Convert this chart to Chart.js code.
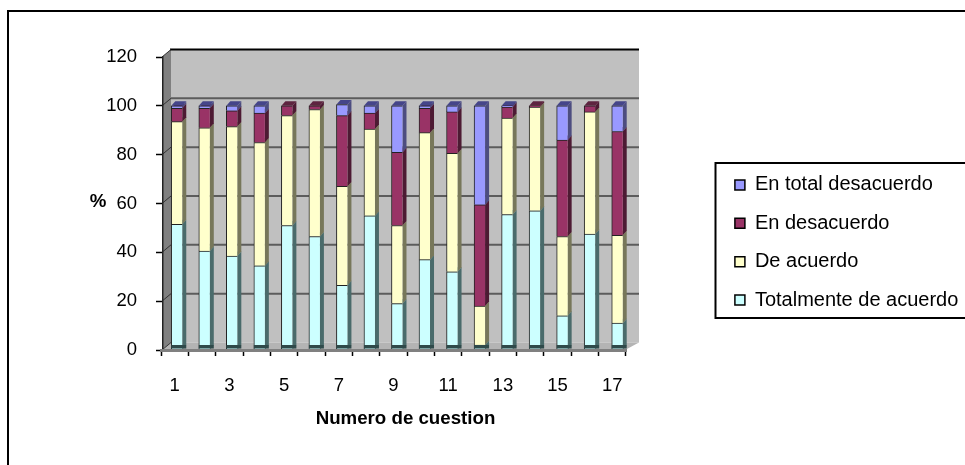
<!DOCTYPE html>
<html>
<head>
<meta charset="utf-8">
<style>
  html, body { margin: 0; padding: 0; background: #fff; overflow: hidden; }
  canvas { display: block; }
</style>
<script src="https://cdn.jsdelivr.net/npm/chart.js@4/dist/chart.umd.min.js"></script>
</head>
<body>
<canvas id="chart" width="965" height="465" style="width:965px;height:465px"></canvas>
<script>
const categories = ['1','2','3','4','5','6','7','8','9','10','11','12','13','14','15','16','17'];
const tickLabels = ['1','','3','','5','','7','','9','','11','','13','','15','','17'];
const yTicks = [0, 20, 40, 60, 80, 100, 120];

// values, bottom of the stack first
const totalmente = [51.5, 40.5, 38.5, 34.5, 51, 46.5, 26.5, 55, 19, 37, 32, 2, 55.5, 57, 14, 47.5, 11];
const deAcuerdo = [42, 50.5, 53, 50.5, 45, 52, 40.5, 35.5, 32, 52, 48.5, 16, 39.5, 42.5, 32.5, 50, 36];
const enDesacuerdo = [5.5, 8, 6.5, 12, 4, 1.5, 29, 6.5, 30, 10, 17, 41.5, 4.5, 0.5, 39.5, 2.5, 42.5];
const enTotal = [1, 1, 2, 3, 0, 0, 4.5, 3, 19, 1, 2.5, 40.5, 0.5, 0, 14, 0, 10.5];

const faceColors = ['#CCFFFF', '#FFFFCC', '#993366', '#9999FF'];
const sideColors = ['#4A6B6B', '#77775A', '#4D1A33', '#4D4D80'];
const topColors = ['#5A8080', '#8F8F6A', '#5E2440', '#45458A'];

// depth of the fake 3D box and of each bar
const wallDx = 8, wallDy = 7.5;
const barDx = 4, barDy = 4.5;
const font = '"Liberation Sans", Arial, sans-serif';

function poly(ctx, pts, fill) {
    ctx.beginPath();
    pts.forEach((p, i) => i ? ctx.lineTo(p[0], p[1]) : ctx.moveTo(p[0], p[1]));
    ctx.closePath();
    ctx.fillStyle = fill;
    ctx.fill();
}

const box3d = {
    id: 'box3d',
    afterLayout(chart) {
        // tick axis is a little narrower than the bars' axis
        const t = chart.scales.xTicks;
        t.left = 161;
        t.right = 626;
        t.width = t.right - t.left;
        t.configure();
        // legend sits further right than layout puts it, and needs its full width
        const lg = chart.legend;
        lg.left = 716.5;
        lg.right = 985;
        lg.width = lg.right - lg.left;
        lg.top += 2.5;
        lg.bottom += 2.5;
    },
    beforeDraw(chart) {
        const ctx = chart.ctx;
        const y = chart.scales.y;
        const top = y.getPixelForValue(120), bottom = y.getPixelForValue(0);
        const left = 162, right = 631;
        ctx.save();
        ctx.fillStyle = '#fff';
        ctx.fillRect(0, 0, chart.width, chart.height);

        // outer frame and legend box
        ctx.strokeStyle = '#000';
        ctx.lineWidth = 2;
        ctx.strokeRect(8, 11, 1000, 500);
        ctx.strokeRect(715.5, 163, 300, 155);

        // back wall, side wall, floor
        poly(ctx, [[left + wallDx + 1, top - wallDy], [639, top - wallDy], [639, bottom - wallDy], [left + wallDx + 1, bottom - wallDy]], '#C0C0C0');
        poly(ctx, [[left, top], [left + wallDx + 1, top - wallDy], [left + wallDx + 1, bottom - wallDy], [left, bottom]], '#808080');
        poly(ctx, [[left, bottom], [left + wallDx + 1, bottom - wallDy], [639, bottom - wallDy], [right - 6, bottom]], '#B4B4B4');

        ctx.strokeStyle = '#000';
        ctx.lineWidth = 2;
        ctx.beginPath();
        ctx.moveTo(left + wallDx, top - wallDy);
        ctx.lineTo(639, top - wallDy);
        ctx.stroke();

        // gridlines on the back wall
        yTicks.slice(1, -1).forEach(v => {
            const py = y.getPixelForValue(v) - wallDy;
            ctx.strokeStyle = '#5C5C5C';
            ctx.lineWidth = 2;
            ctx.beginPath();
            ctx.moveTo(left + wallDx + 1, py);
            ctx.lineTo(639, py);
            ctx.stroke();
        });
        yTicks.forEach(v => {
            const py = y.getPixelForValue(v);
            ctx.strokeStyle = '#333';
            ctx.lineWidth = 1;
            ctx.beginPath();
            ctx.moveTo(left, py);
            ctx.lineTo(left + wallDx + 1, py - wallDy);
            ctx.stroke();
        });
        ctx.restore();
    },
    beforeDatasetsDraw(chart) {
        const ctx = chart.ctx;
        ctx.save();
        chart.data.datasets.forEach((ds, i) => {
            chart.getDatasetMeta(i).data.forEach((bar, j) => {
                if (!ds.data[j]) return;
                const r = bar.x + bar.width / 2, l = bar.x - bar.width / 2;
                poly(ctx, [[r, bar.y], [r + barDx, bar.y - barDy], [r + barDx, bar.base - barDy], [r, bar.base]], sideColors[i]);
                poly(ctx, [[l, bar.y], [r, bar.y], [r + barDx, bar.y - barDy], [l + barDx, bar.y - barDy]], topColors[i]);
            });
        });
        ctx.restore();
    },
    afterDraw(chart) {
        const ctx = chart.ctx;
        const y = chart.scales.y;
        ctx.save();
        // dark foot of each bar
        chart.getDatasetMeta(0).data.forEach(bar => {
            ctx.fillStyle = '#2F4A4A';
            ctx.fillRect(bar.x - bar.width / 2, y.getPixelForValue(0) - 5, bar.width + barDx, 3.5);
        });
        // axis titles
        ctx.fillStyle = '#000';
        ctx.font = 'bold 18.7px ' + font;
        ctx.textBaseline = 'middle';
        ctx.textAlign = 'center';
        ctx.fillText('%', 98, 202);
        ctx.fillText('Numero de cuestion', 405.5, 419);
        ctx.restore();
    }
};

new Chart(document.getElementById('chart'), {
    type: 'bar',
    data: {
        labels: categories,
        datasets: [
            { label: 'Totalmente de acuerdo', data: totalmente, backgroundColor: faceColors[0] },
            { label: 'De acuerdo', data: deAcuerdo, backgroundColor: faceColors[1] },
            { label: 'En desacuerdo', data: enDesacuerdo, backgroundColor: faceColors[2] },
            { label: 'En total desacuerdo', data: enTotal, backgroundColor: faceColors[3] }
        ].map(d => Object.assign(d, {
            borderColor: '#222',
            borderWidth: { left: 1, top: 1, right: 0, bottom: 0 },
            borderSkipped: false,
            barThickness: 11
        }))
    },
    options: {
        responsive: false,
        animation: false,
        devicePixelRatio: 1,
        // legend is capped at a quarter of what is left, so this puts the plot's right edge at 631
        layout: { padding: { left: 0, right: 123.7, top: 57, bottom: 42 } },
        plugins: {
            tooltip: { enabled: false },
            legend: {
                position: 'right',
                reverse: true,
                labels: {
                    color: '#000',
                    font: { family: font, size: 20 },
                    boxWidth: 10,
                    boxHeight: 10,
                    padding: 18.4,
                    generateLabels(chart) {
                        return chart.data.datasets.map((d, i) => ({
                            text: d.label,
                            fillStyle: faceColors[i],
                            strokeStyle: '#000',
                            lineWidth: 1.5,
                            datasetIndex: i
                        }));
                    }
                }
            }
        },
        scales: {
            x: { stacked: true, display: false },
            xTicks: {
                type: 'category',
                labels: categories,
                position: 'bottom',
                offset: true,
                afterFit(s) { s.height = 73; },
                border: { color: '#808080', width: 3, z: 1 },
                grid: { offset: true, drawOnChartArea: false, color: '#000', tickLength: 6, tickWidth: 1.5, z: 1 },
                ticks: {
                    autoSkip: false,
                    maxRotation: 0,
                    padding: 19,
                    color: '#000',
                    font: { family: font, size: 18.5 },
                    callback: (v, i) => tickLabels[i]
                }
            },
            y: {
                stacked: true,
                min: 0,
                max: 120,
                position: 'left',
                afterFit(s) { s.width = 163; },
                afterBuildTicks(s) { s.ticks = yTicks.map(v => ({ value: v })); },
                border: { color: '#222', width: 1.5 },
                grid: { drawOnChartArea: false, color: '#000', tickLength: 7, tickWidth: 1.5 },
                ticks: {
                    padding: 19,
                    color: '#000',
                    font: { family: font, size: 18.5 }
                }
            }
        }
    },
    plugins: [box3d]
});
</script>
</body>
</html>
